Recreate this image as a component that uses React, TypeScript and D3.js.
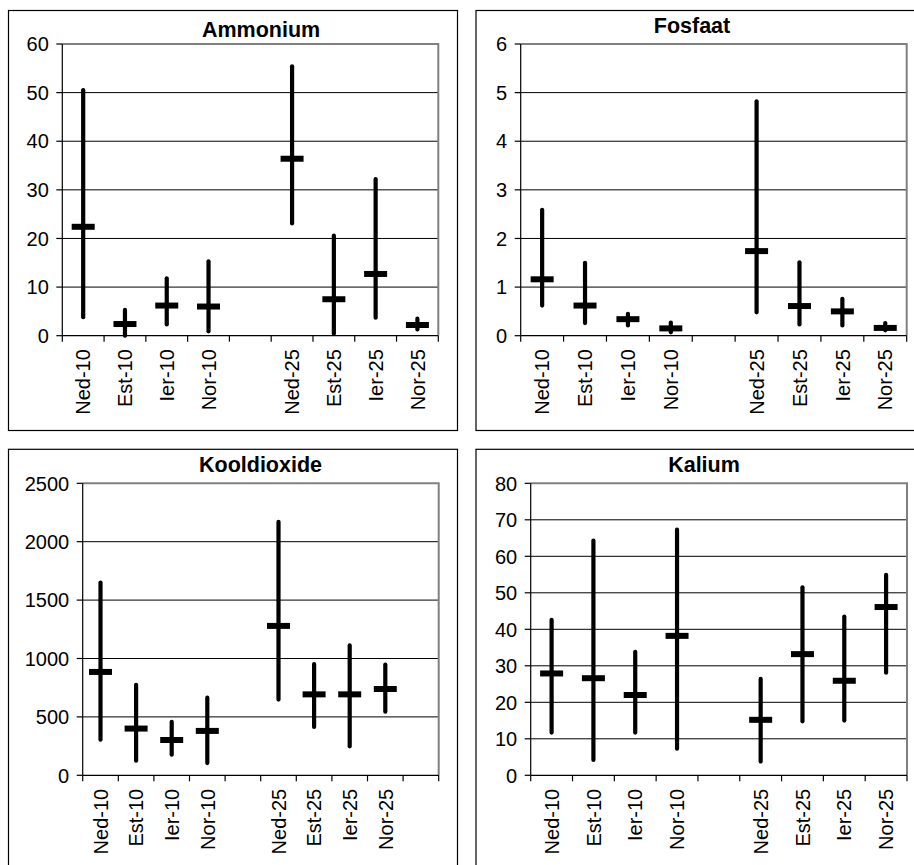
import React from "react";
import * as d3 from "d3";

// ---------- data ----------
const slots9 = ["Ned-10", "Est-10", "Ier-10", "Nor-10", "gap1", "Ned-25", "Est-25", "Ier-25", "Nor-25"];
const slots10 = [...slots9, "gap2"];
const categories = ["Ned-10", "Est-10", "Ier-10", "Nor-10", "Ned-25", "Est-25", "Ier-25", "Nor-25"];

const ammoniumHigh = [50.5, 5.3, 11.8, 15.3, 55.4, 20.6, 32.2, 3.5];
const ammoniumLow = [3.8, 0, 2.3, 0.9, 23.1, 0.4, 3.7, 1.3];
const ammoniumMean = [22.4, 2.4, 6.2, 6.0, 36.4, 7.5, 12.7, 2.2];
const ammoniumTicks = [0, 10, 20, 30, 40, 50, 60];

const fosfaatHigh = [2.59, 1.5, 0.45, 0.27, 4.82, 1.51, 0.76, 0.26];
const fosfaatLow = [0.62, 0.26, 0.21, 0.07, 0.48, 0.23, 0.21, 0.11];
const fosfaatMean = [1.16, 0.62, 0.34, 0.15, 1.74, 0.61, 0.5, 0.16];
const fosfaatTicks = [0, 1, 2, 3, 4, 5, 6];

const koolHigh = [1650, 775, 458, 665, 2170, 952, 1112, 948];
const koolLow = [305, 125, 177, 105, 648, 414, 248, 545];
const koolMean = [885, 400, 302, 380, 1279, 693, 693, 739];
const koolTicks = [0, 500, 1000, 1500, 2000, 2500];

const kaliumHigh = [42.6, 64.3, 33.8, 67.3, 26.4, 51.5, 43.5, 54.9];
const kaliumLow = [11.7, 4.2, 11.7, 7.3, 3.8, 14.8, 15.0, 28.1];
const kaliumMean = [27.9, 26.6, 22.0, 38.2, 15.2, 33.2, 25.9, 46.1];
const kaliumTicks = [0, 10, 20, 30, 40, 50, 60, 70, 80];

const titles = ["Ammonium", "Fosfaat", "Kooldioxide", "Kalium"];

// ---------- layout ----------
const FONT = "'Liberation Sans', Arial, Helvetica, sans-serif";
const LABEL_SIZE = 20;
const TITLE_SIZE = 21.5;

type Panel = {
  title: string;
  box: [number, number, number, number];
  plot: { l: number; t: number; r: number; b: number };
  titlePos: [number, number];
  slots: string[];
  ticks: number[];
  high: number[];
  low: number[];
  mean: number[];
};

const panels: Panel[] = [
  {
    title: titles[0],
    box: [8.5, 10.5, 449, 420],
    plot: { l: 62.3, t: 44, r: 438.3, b: 335.7 },
    titlePos: [261, 37],
    slots: slots9,
    ticks: ammoniumTicks,
    high: ammoniumHigh,
    low: ammoniumLow,
    mean: ammoniumMean,
  },
  {
    title: titles[1],
    box: [476, 10.5, 449, 420],
    plot: { l: 520.7, t: 44, r: 906.7, b: 335.7 },
    titlePos: [692, 32.5],
    slots: slots9,
    ticks: fosfaatTicks,
    high: fosfaatHigh,
    low: fosfaatLow,
    mean: fosfaatMean,
  },
  {
    title: titles[2],
    box: [8.5, 449.3, 449, 430],
    plot: { l: 82.7, t: 483.3, r: 438.7, b: 775.3 },
    titlePos: [260.5, 472],
    slots: slots10,
    ticks: koolTicks,
    high: koolHigh,
    low: koolLow,
    mean: koolMean,
  },
  {
    title: titles[3],
    box: [476, 449.3, 449, 430],
    plot: { l: 530.7, t: 483.3, r: 907, b: 775.3 },
    titlePos: [704, 472.3],
    slots: slots9,
    ticks: kaliumTicks,
    high: kaliumHigh,
    low: kaliumLow,
    mean: kaliumMean,
  },
];

function ChartPanel({ p }: { p: Panel }) {
  const { l, t, r, b } = p.plot;
  const yMax = p.ticks[p.ticks.length - 1];
  const y = d3.scaleLinear().domain([0, yMax]).range([b, t]);
  const x = d3.scaleBand<string>().domain(p.slots).range([l, r]).padding(0);
  const bw = x.bandwidth();
  const edges = d3.range(p.slots.length + 1).map((i) => l + i * bw);
  return (
    <g>
      <rect x={p.box[0]} y={p.box[1]} width={p.box[2]} height={p.box[3]} fill="#fff" stroke="#000" strokeWidth={1.2} />
      {p.ticks.slice(1, -1).map((v) => (
        <line key={"g" + v} x1={l} x2={r} y1={y(v)} y2={y(v)} stroke="#000" strokeWidth={1} />
      ))}
      <path d={`M${l},${t}H${r}V${b}`} fill="none" stroke="#808080" strokeWidth={2} />
      <line x1={l} x2={l} y1={t} y2={b} stroke="#000" strokeWidth={1.2} />
      {p.ticks.map((v) => (
        <g key={"y" + v}>
          <line x1={l - 6} x2={l} y1={y(v)} y2={y(v)} stroke="#000" strokeWidth={1.2} />
          <text x={l - 13.5} y={y(v)} dy="0.36em" textAnchor="end" fontSize={LABEL_SIZE} fontFamily={FONT} fill="#000">
            {v}
          </text>
        </g>
      ))}
      <line x1={l} x2={r} y1={b} y2={b} stroke="#000" strokeWidth={1.2} />
      {edges.map((ex, i) => (
        <line key={"xt" + i} x1={ex} x2={ex} y1={b} y2={b + 6} stroke="#000" strokeWidth={1.2} />
      ))}
      {categories.map((c) => {
        const cx = (x(c) as number) + bw / 2;
        return (
          <text
            key={"xl" + c}
            transform={`translate(${cx},${b + 13.5}) rotate(-90)`}
            dy="0.36em"
            textAnchor="end"
            fontSize={LABEL_SIZE}
            fontFamily={FONT}
            fill="#000"
          >
            {c}
          </text>
        );
      })}
      {categories.map((c, i) => {
        const cx = (x(c) as number) + bw / 2;
        return (
          <g key={"m" + c}>
            <line x1={cx} x2={cx} y1={y(p.high[i])} y2={y(p.low[i])} stroke="#000" strokeWidth={4.2} strokeLinecap="round" />
            <line x1={cx - 11.5} x2={cx + 11.5} y1={y(p.mean[i])} y2={y(p.mean[i])} stroke="#000" strokeWidth={6} />
          </g>
        );
      })}
      <text x={p.titlePos[0]} y={p.titlePos[1]} textAnchor="middle" fontSize={TITLE_SIZE} fontWeight="bold" fontFamily={FONT} fill="#000">
        {p.title}
      </text>
    </g>
  );
}

export default function App() {
  return (
    <svg
      width={914}
      height={865}
      style={{ position: "absolute", left: 0, top: 0, background: "#fff" }}
      xmlns="http://www.w3.org/2000/svg"
    >
      <rect x={0} y={0} width={914} height={865} fill="#fff" />
      {panels.map((p) => (
        <ChartPanel key={p.title} p={p} />
      ))}
    </svg>
  );
}
